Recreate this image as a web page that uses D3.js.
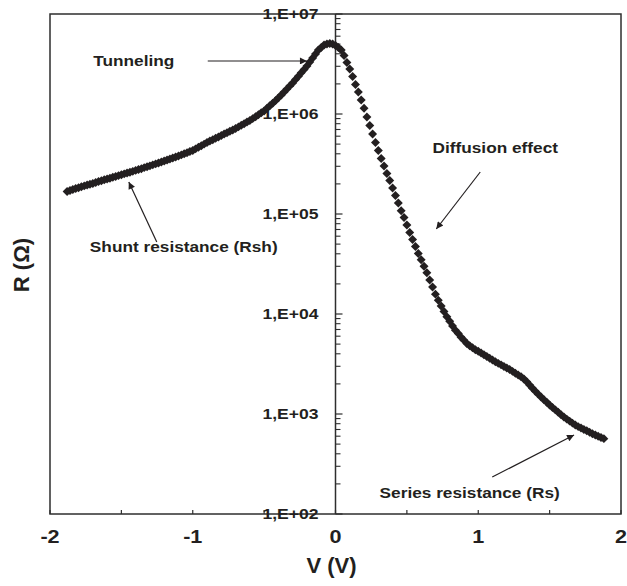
<!DOCTYPE html>
<html><head><meta charset="utf-8">
<script src="https://cdn.jsdelivr.net/npm/d3@7"></script>
<style>
body{margin:0;background:#fff}
svg{display:block}
text{font-family:"Liberation Sans",Arial,sans-serif;font-weight:bold;fill:#231f20}
</style>
</head><body>
<svg id="chart" width="627" height="586"></svg>
<script>
// ---- data (V in volts, R in ohms) ----
const voltage = [
-1.88,-1.86,-1.84,-1.82,-1.80,-1.78,-1.76,-1.74,-1.72,-1.70,-1.68,-1.66,-1.64,-1.62,-1.60,-1.58,-1.56,-1.54,-1.52,-1.50,
-1.48,-1.46,-1.44,-1.42,-1.40,-1.38,-1.36,-1.34,-1.32,-1.30,-1.28,-1.26,-1.24,-1.22,-1.20,-1.18,-1.16,-1.14,-1.12,-1.10,
-1.08,-1.06,-1.04,-1.02,-1.00,-0.98,-0.96,-0.94,-0.92,-0.90,-0.88,-0.86,-0.84,-0.82,-0.80,-0.78,-0.76,-0.74,-0.72,-0.70,
-0.68,-0.66,-0.64,-0.62,-0.60,-0.58,-0.56,-0.54,-0.52,-0.50,-0.48,-0.46,-0.44,-0.42,-0.40,-0.38,-0.36,-0.34,-0.32,-0.30,
-0.28,-0.26,-0.24,-0.22,-0.20,-0.18,-0.16,-0.14,-0.12,-0.10,-0.08,-0.06,-0.04,-0.02,
0.00,0.02,0.04,0.06,0.08,0.10,0.12,0.14,0.16,0.18,0.20,0.22,0.24,0.26,0.28,0.30,0.32,0.34,0.36,0.38,
0.40,0.42,0.44,0.46,0.48,0.50,0.52,0.54,0.56,0.58,0.60,0.62,0.64,0.66,0.68,0.70,0.72,0.74,0.76,0.78,
0.80,0.82,0.84,0.86,0.88,0.90,0.92,0.94,0.96,0.98,1.00,1.02,1.04,1.06,1.08,1.10,1.12,1.14,1.16,1.18,
1.20,1.22,1.24,1.26,1.28,1.30,1.32,1.34,1.36,1.38,1.40,1.42,1.44,1.46,1.48,1.50,1.52,1.54,1.56,1.58,
1.60,1.62,1.64,1.66,1.68,1.70,1.72,1.74,1.76,1.78,1.80,1.82,1.84,1.86,1.88
];
const resistance = [
1.68e5,1.72e5,1.76e5,1.80e5,1.83e5,1.87e5,1.91e5,1.95e5,1.98e5,2.02e5,2.07e5,2.11e5,2.15e5,2.20e5,2.24e5,2.28e5,2.33e5,2.37e5,2.42e5,2.47e5,
2.52e5,2.57e5,2.62e5,2.67e5,2.73e5,2.79e5,2.84e5,2.91e5,2.97e5,3.03e5,3.10e5,3.17e5,3.24e5,3.31e5,3.39e5,3.47e5,3.55e5,3.63e5,3.72e5,3.80e5,
3.90e5,4.00e5,4.10e5,4.21e5,4.32e5,4.48e5,4.65e5,4.82e5,5.00e5,5.19e5,5.36e5,5.53e5,5.71e5,5.90e5,6.10e5,6.30e5,6.50e5,6.71e5,6.93e5,7.16e5,
7.43e5,7.71e5,8.00e5,8.30e5,8.61e5,8.99e5,9.40e5,9.82e5,1.03e6,1.07e6,1.14e6,1.21e6,1.28e6,1.36e6,1.45e6,1.55e6,1.66e6,1.78e6,1.91e6,2.04e6,
2.21e6,2.39e6,2.58e6,2.79e6,3.02e6,3.31e6,3.63e6,3.98e6,4.37e6,4.62e6,4.90e6,5.01e6,5.07e6,5.01e6,
4.84e6,4.62e6,4.37e6,3.85e6,3.27e6,2.82e6,2.37e6,1.97e6,1.66e6,1.38e6,1.14e6,9.33e5,7.67e5,6.31e5,5.19e5,4.32e5,3.59e5,3.02e5,2.54e5,2.16e5,
1.82e5,1.53e5,1.29e5,1.08e5,9.23e4,7.76e4,6.53e4,5.56e4,4.73e4,4.03e4,3.48e4,3.00e4,2.58e4,2.19e4,1.86e4,1.58e4,1.37e4,1.20e4,1.06e4,9.40e3,
8.45e3,7.60e3,6.88e3,6.37e3,5.86e3,5.46e3,5.06e3,4.82e3,4.59e3,4.40e3,4.24e3,4.08e3,3.92e3,3.76e3,3.61e3,3.47e3,3.33e3,3.21e3,3.10e3,2.98e3,
2.88e3,2.78e3,2.67e3,2.56e3,2.46e3,2.36e3,2.24e3,2.10e3,1.95e3,1.81e3,1.69e3,1.58e3,1.48e3,1.39e3,1.31e3,1.23e3,1.16e3,1.10e3,1.04e3,9.84e2,
9.33e2,8.89e2,8.49e2,8.11e2,7.78e2,7.48e2,7.23e2,7.01e2,6.79e2,6.56e2,6.35e2,6.17e2,5.98e2,5.82e2,5.67e2
];
const xTickValues = [-2, -1, 0, 1, 2];
const yTickValues = [1e2, 1e3, 1e4, 1e5, 1e6, 1e7];
const yTickLabels = ["1,E+02", "1,E+03", "1,E+04", "1,E+05", "1,E+06", "1,E+07"];
const annotationTexts = ["Tunneling", "Diffusion effect", "Shunt resistance (Rsh)", "Series resistance (Rs)"];
const annotationV = [-1.413, 1.119, -1.063, 0.940];
const annotationR = [3.39e6, 4.57e5, 4.68e4, 162];
const arrowFromV = [-0.895, 1.014, -1.252, 1.098];
const arrowFromR = [3.39e6, 2.63e5, 5.25e4, 234];
const arrowToV = [-0.200, 0.706, -1.448, 1.671];
const arrowToR = [3.39e6, 7.08e4, 2.09e5, 617];

// ---- chart ----
const svg = d3.select("#chart");
const x = d3.scaleLinear().domain([-2, 2]).range([50, 621]);
const y = d3.scaleLog().domain([1e2, 1e7]).range([514, 14]);
const ink = "#231f20";
const axisInk = "#2e2e2e";

// frame
svg.append("rect")
  .attr("x", x(-2)).attr("y", y(1e7))
  .attr("width", x(2) - x(-2)).attr("height", y(1e2) - y(1e7))
  .attr("fill", "none").attr("stroke", axisInk).attr("stroke-width", 1.5);

// x ticks (inward, every 0.5)
const xt = d3.range(-2, 2.01, 0.5);
svg.append("g").selectAll("line").data(xt).join("line")
  .attr("x1", d => x(d)).attr("x2", d => x(d))
  .attr("y1", y(1e2)).attr("y2", y(1e2) - 4)
  .attr("stroke", axisInk).attr("stroke-width", 1.2);
svg.append("g").selectAll("text").data(xTickValues).join("text")
  .attr("transform", d => `translate(${x(d)},${y(1e2) + 29}) scale(1.2,1)`)
  .attr("text-anchor", "middle")
  .style("font-size", "18px")
  .text(d => d);

// y axis at V = 0
const yAxisX = x(0);
svg.append("line")
  .attr("x1", yAxisX).attr("x2", yAxisX)
  .attr("y1", y(1e7)).attr("y2", y(1e2))
  .attr("stroke", axisInk).attr("stroke-width", 1.5);
const minor = [];
for (let e = 2; e < 7; e++) for (let m = 2; m <= 9; m++) minor.push(m * Math.pow(10, e));
svg.append("g").selectAll("line").data(minor).join("line")
  .attr("x1", yAxisX).attr("x2", yAxisX + 5)
  .attr("y1", d => y(d)).attr("y2", d => y(d))
  .attr("stroke", axisInk).attr("stroke-width", 1.1);
svg.append("g").selectAll("line").data(yTickValues).join("line")
  .attr("x1", yAxisX).attr("x2", yAxisX + 7)
  .attr("y1", d => y(d)).attr("y2", d => y(d))
  .attr("stroke", axisInk).attr("stroke-width", 1.2);
svg.append("g").selectAll("text").data(yTickValues).join("text")
  .attr("transform", d => `translate(${yAxisX - 17},${y(d)}) scale(1.17,1)`)
  .attr("dy", "0.36em")
  .attr("text-anchor", "end")
  .style("font-size", "15px")
  .text((d, i) => yTickLabels[i]);

// axis titles
svg.append("text").attr("x", x(0) - 4).attr("y", 573)
  .attr("text-anchor", "middle").style("font-size", "22px").text("V (V)");
svg.append("text").attr("transform", "translate(29,265) rotate(-90)")
  .attr("text-anchor", "middle").style("font-size", "22px").text("R (\u03A9)");

// data markers (diamonds)
const diamond = d3.symbol().type(d3.symbolSquare).size(40)();
svg.append("g").selectAll("path").data(voltage).join("path")
  .attr("d", diamond)
  .attr("transform", (d, i) => `translate(${x(d)},${y(resistance[i])}) rotate(45)`)
  .attr("fill", ink);

// annotations
svg.append("defs").append("marker")
  .attr("id", "arrow").attr("viewBox", "0 0 10 10")
  .attr("refX", 10).attr("refY", 5)
  .attr("markerWidth", 9).attr("markerHeight", 7)
  .attr("markerUnits", "userSpaceOnUse")
  .attr("orient", "auto")
  .append("path").attr("d", "M0,0 L10,5 L0,10 z").attr("fill", ink);

svg.append("g").selectAll("line").data(annotationTexts).join("line")
  .attr("x1", (d, i) => x(arrowFromV[i])).attr("y1", (d, i) => y(arrowFromR[i]))
  .attr("x2", (d, i) => x(arrowToV[i])).attr("y2", (d, i) => y(arrowToR[i]))
  .attr("stroke", ink).attr("stroke-width", 1.2)
  .attr("marker-end", "url(#arrow)");

svg.append("g").selectAll("text").data(annotationTexts).join("text")
  .attr("transform", (d, i) => `translate(${x(annotationV[i])},${y(annotationR[i])}) scale(1.15,1)`)
  .attr("dy", "0.36em").attr("text-anchor", "middle")
  .style("font-size", "15px")
  .text(d => d);
</script>
</body></html>
